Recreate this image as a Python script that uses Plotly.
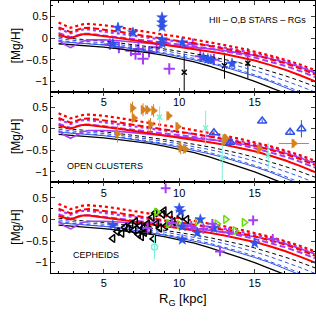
import plotly.graph_objects as go
from plotly.subplots import make_subplots

# ---------------- model curves (same in every panel) ----------------
R_model = [2.0, 2.4, 2.8, 3.2, 3.6, 4.0, 5, 6, 7, 8, 9, 10, 11, 12, 13, 14, 15, 16, 17, 18, 19]
red_dot = [0.36, 0.30, 0.24, 0.28, 0.32, 0.33, 0.30, 0.25, 0.19, 0.13, 0.08, 0.03, -0.03, -0.09, -0.16, -0.23, -0.31, -0.40, -0.50, -0.61, -0.74]
red_dash = [0.25, 0.20, 0.14, 0.19, 0.23, 0.24, 0.20, 0.15, 0.09, 0.04, -0.01, -0.06, -0.12, -0.18, -0.24, -0.31, -0.39, -0.48, -0.58, -0.70, -0.84]
red_solid = [0.08, 0.04, 0.00, 0.05, 0.09, 0.09, 0.05, 0.00, -0.05, -0.10, -0.15, -0.20, -0.25, -0.31, -0.37, -0.44, -0.52, -0.62, -0.73, -0.86, -1.00]
vio_dashdot = [0.22, 0.17, 0.11, 0.16, 0.20, 0.20, 0.15, 0.10, 0.05, 0.00, -0.04, -0.08, -0.12, -0.17, -0.22, -0.28, -0.35, -0.43, -0.53, -0.65, -0.79]
vio_dash = [0.12, 0.07, 0.02, 0.06, 0.10, 0.10, 0.06, 0.02, -0.02, -0.06, -0.10, -0.14, -0.19, -0.24, -0.30, -0.37, -0.45, -0.54, -0.64, -0.76, -0.90]
vio_solid = [-0.05, -0.15, -0.22, -0.14, -0.07, -0.04, -0.04, -0.06, -0.09, -0.12, -0.15, -0.18, -0.21, -0.25, -0.29, -0.34, -0.40, -0.47, -0.56, -0.67, -0.80]
blk_dash = [0.03, 0.01, -0.01, -0.02, -0.03, -0.04, -0.07, -0.11, -0.15, -0.20, -0.25, -0.30, -0.36, -0.42, -0.49, -0.57, -0.66, -0.76, -0.87, -0.99, -1.12]
blue_dash1 = [-0.01, -0.03, -0.05, -0.06, -0.07, -0.08, -0.11, -0.15, -0.19, -0.24, -0.29, -0.35, -0.41, -0.48, -0.56, -0.65, -0.75, -0.86, -0.98, -1.11, -1.25]
blue_dash2 = [-0.05, -0.07, -0.09, -0.10, -0.11, -0.12, -0.15, -0.19, -0.23, -0.28, -0.34, -0.40, -0.47, -0.55, -0.64, -0.74, -0.85, -0.97, -1.10, -1.24, -1.39]
blue_solid = [-0.08, -0.09, -0.10, -0.11, -0.12, -0.13, -0.16, -0.20, -0.25, -0.30, -0.36, -0.43, -0.50, -0.58, -0.67, -0.77, -0.88, -1.00, -1.13, -1.27, -1.42]
blk_solid = [-0.13, -0.14, -0.15, -0.16, -0.17, -0.18, -0.21, -0.25, -0.29, -0.34, -0.40, -0.47, -0.55, -0.65, -0.76, -0.88, -1.00, -1.13, -1.26, -1.40, -1.55]

# ---------------- panel 1: HII - O,B stars - RGs ----------------
ob_R = [5.6, 5.94, 6.93, 8.86, 8.86, 8.86, 8.86, 8.86, 10.2, 11.6, 11.9, 12.1, 13.5]
ob_MgH = [-0.13, 0.24, 0.13, 0.48, 0.36, 0.26, -0.03, -0.12, -0.10, -0.45, -0.48, -0.50, -0.59]
ob_err = [0.10, 0.12, 0.10, 0.08, 0.08, 0.08, 0.10, 0.10, 0.12, 0.08, 0.08, 0.08, 0.08]
rg_R = [5.4, 6.0, 6.8, 7.1, 7.6, 8.5, 9.34, 10.9, 11.4, 12.3, 7.3, 8.0]
rg_MgH = [-0.14, -0.22, -0.29, -0.37, -0.48, -0.21, -0.71, -0.14, -0.42, -0.50, -0.25, -0.32]
rg_err = [0.08, 0.1, 0.08, 0.1, 0.12, 0.1, 0.0, 0.1, 0.1, 0.1, 0.1, 0.1]
hii_R = [10.33, 13.0, 14.55]
hii_MgH = [-0.79, -0.64, -0.58]
hii_err = [0.43, 0.30, 0.35]

# ---------------- panel 2: open clusters ----------------
oc_R = [5.9, 6.9, 7.0, 7.6, 7.9, 8.3, 8.1, 9.3, 9.9, 10.1, 10.4, 13.1, 13.0, 15.3, 17.6]
oc_MgH = [-0.12, 0.48, 0.25, 0.44, 0.44, 0.42, 0.10, 0.30, 0.05, -0.44, -0.47, -0.22, -0.28, -0.47, -0.34]
oc_err = [0.20, 0.15, 0.10, 0.15, 0.10, 0.15, 0.15, 0.10, 0.10, 0.15, 0.10, 0.10, 0.10, 0.08, 0.10]
oc_xerr = [0, 0, 0, 0, 0, 0, 0, 0, 0, 0, 0, 0, 0, 0, 1.0]
oc2_R = [8.7, 11.75, 12.85, 15.9]
oc2_MgH = [0.27, 0.02, -0.67, -0.62]
oc2_err = [0.25, 0.40, 0.55, 0.30]
oc3_R = [12.3, 13.4, 15.5, 17.35, 18.1]
oc3_MgH = [-0.09, -0.31, 0.18, -0.08, 0.00]
oc3_err = [0.04, 0.04, 0.04, 0.05, 0.20]

# ---------------- panel 3: Cepheids ----------------
ceph_R = [5.6, 5.9, 6.2, 6.4, 6.6, 6.8, 7.0, 7.1, 7.3, 7.4, 7.6, 7.7, 7.9, 8.0, 8.2, 8.4, 8.5, 8.7, 8.9, 9.1, 9.4, 9.6, 10.1, 10.5, 7.5, 8.3, 9.0]
ceph_MgH = [-0.44, -0.28, -0.32, -0.18, -0.22, -0.12, -0.25, -0.05, -0.35, -0.15, -0.20, -0.30, -0.10, -0.25, 0.05, 0.15, -0.10, -0.20, 0.12, -0.15, 0.10, -0.05, 0.08, 0.00, -0.40, -0.45, 0.20]
cg_R = [8.5, 9.3, 10.0, 11.2, 12.5, 13.07, 13.7, 14.3]
cg_MgH = [0.17, -0.10, -0.12, -0.05, -0.10, 0.00, -0.26, -0.07]
cs_R = [5.6, 10.0, 10.1, 11.4, 10.2, 11.2, 10.2, 15.0, 12.3]
cs_MgH = [-0.13, 0.26, 0.18, 0.00, -0.16, -0.31, -0.47, -0.55, -0.20]
cp_R = [9.1, 14.9, 12.7, 10.8, 11.6, 12.2, 13.3, 7.9, 9.5, 16.2]
cp_MgH = [0.72, -0.02, -0.74, -0.15, -0.22, -0.10, -0.30, -0.20, -0.08, -0.45]
cc_R = [8.36]
cc_MgH = [-0.64]
cc_err = [0.28]

RED = "#FF0000"
VIO = "#A63CF5"
BLUE = "#2F52E8"
ORANGE = "#D4811E"
CYAN = "#79F2D8"
GREEN = "#66E000"

fig = make_subplots(rows=3, cols=1, vertical_spacing=0)


def add_models(row):
    specs = [
        (blk_solid, "black", "solid", 1.3),
        (blue_solid, BLUE, "solid", 1.0),
        (blue_dash2, BLUE, "4px,3px", 1.0),
        (blue_dash1, BLUE, "4px,3px", 1.0),
        (blk_dash, "black", "4px,3px", 1.0),
        (vio_solid, VIO, "solid", 1.6),
        (vio_dash, VIO, "6px,3px", 2.0),
        (vio_dashdot, VIO, "3px,3px", 2.2),
        (red_solid, RED, "solid", 2.0),
        (red_dash, RED, "6px,3px", 2.0),
        (red_dot, RED, "3px,3px", 2.2),
    ]
    for ys, c, d, w in specs:
        fig.add_trace(go.Scatter(x=R_model, y=ys, mode="lines",
                                 line=dict(color=c, dash=d, width=w),
                                 showlegend=False, hoverinfo="skip"), row=row, col=1)


def pts(x, y, sym, color, size, row, err=None, xerr=None, lw=1.5):
    kw = {}
    if err is not None:
        kw["error_y"] = dict(type="data", array=err, color=color, thickness=1, width=0)
    if xerr is not None:
        kw["error_x"] = dict(type="data", array=xerr, color=color, thickness=1, width=0)
    fig.add_trace(go.Scatter(
        x=x, y=y, mode="markers",
        marker=dict(symbol=sym, color=color, size=size, line=dict(color=color, width=lw)),
        showlegend=False, **kw), row=row, col=1)


# panel 1
pts(rg_R, rg_MgH, "cross-thin", VIO, 8, 1, err=rg_err, lw=2)
pts(hii_R, hii_MgH, "x-thin", "black", 5, 1, err=hii_err, lw=1.5)
add_models(1)
pts(ob_R, ob_MgH, "star", BLUE, 8, 1, err=ob_err, lw=0.5)

# panel 2
add_models(2)
pts(oc2_R, oc2_MgH, "x-thin", CYAN, 5, 2, err=oc2_err, lw=1.5)
pts(oc_R, oc_MgH, "triangle-right", ORANGE, 8, 2, err=oc_err, xerr=oc_xerr, lw=0.5)
pts(oc3_R, oc3_MgH, "triangle-up-open", BLUE, 8, 2, err=oc3_err, lw=1.5)

# panel 3
add_models(3)
pts(ceph_R, ceph_MgH, "triangle-left-open", "black", 7, 3, lw=1.5)
pts(cg_R, cg_MgH, "triangle-right-open", GREEN, 7, 3, lw=1.5)
pts(cs_R, cs_MgH, "star", BLUE, 8, 3, lw=0.5)
pts(cp_R, cp_MgH, "cross-thin", VIO, 7, 3, lw=2)
pts(cc_R, cc_MgH, "circle-open", CYAN, 6, 3, err=cc_err, lw=1.5)

FONT = "Liberation Sans, Arial, sans-serif"
for r in (1, 2, 3):
    fig.update_xaxes(range=[1.5, 19], tickvals=[5, 10, 15], ticks="inside", ticklen=4,
                     minor=dict(dtick=1, tick0=0, ticks="inside", ticklen=2, tickcolor="black"),
                     showline=True, linecolor="black", linewidth=1, mirror="allticks",
                     showgrid=False, zeroline=False, automargin=False,
                     tickfont=dict(size=11, color="black", family=FONT),
                     row=r, col=1)
    fig.update_yaxes(range=[-1.24, 0.86], tickvals=[-1, -0.5, 0, 0.5], ticktext=["\u22121", "\u22120.5", "0", "0.5"],
                     ticks="inside", ticklen=4,
                     minor=dict(dtick=0.25, tick0=0, ticks="inside", ticklen=2, tickcolor="black"),
                     showline=True, linecolor="black", linewidth=1, mirror="allticks",
                     showgrid=False, zeroline=False, automargin=False,
                     tickfont=dict(size=11, color="black", family=FONT),
                     row=r, col=1)

# y titles and x title as annotations (fixed positions)
for yd in ("y domain", "y2 domain", "y3 domain"):
    fig.add_annotation(x=-35 / 264, y=0.5, xref="paper", yref=yd, text="[Mg/H]", textangle=-90,
                       showarrow=False, xanchor="center", yanchor="middle",
                       font=dict(size=12, family=FONT, color="black"))
fig.add_annotation(x=0.5, y=-26 / 272, xref="paper", yref="paper", text="R<sub>G</sub> [kpc]",
                   showarrow=False, xanchor="center", yanchor="middle",
                   font=dict(size=13, family=FONT, color="black"))

fig.add_annotation(x=0.975, y=0.79, xref="x domain", yref="y domain", text="HII \u2013 O,B STARS \u2013 RGs",
                   showarrow=False, xanchor="right", yanchor="middle", font=dict(size=9, family=FONT, color="black"))
fig.add_annotation(x=0.205, y=0.18, xref="x2 domain", yref="y2 domain", text="OPEN CLUSTERS",
                   showarrow=False, xanchor="center", yanchor="middle", font=dict(size=9, family=FONT, color="black"))
fig.add_annotation(x=0.17, y=0.2, xref="x3 domain", yref="y3 domain", text="CEPHEIDS",
                   showarrow=False, xanchor="center", yanchor="middle", font=dict(size=9, family=FONT, color="black"))

fig.update_layout(width=316, height=327, margin=dict(l=51, r=1, t=1, b=54, autoexpand=False),
                  plot_bgcolor="white", paper_bgcolor="white", showlegend=False,
                  font=dict(family=FONT, color="black"))

fig.write_html("out.html", config={"displayModeBar": False},
               post_script="document.body.style.margin='0';document.body.style.padding='0';"
                           "document.documentElement.style.overflow='hidden';")
